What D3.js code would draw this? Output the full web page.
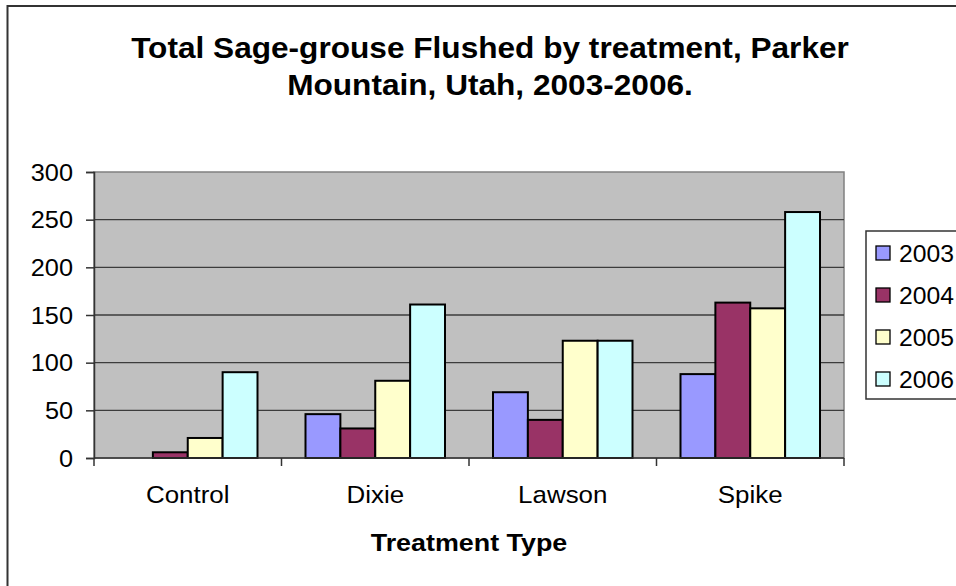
<!DOCTYPE html>
<html>
<head>
<meta charset="utf-8">
<script src="https://cdn.jsdelivr.net/npm/d3@7"></script>
<style>
    body { margin: 0; background: white; }
    svg { display: block; font-family: "Liberation Sans", Arial, sans-serif; }
</style>
</head>
<body>
<div id="chart"></div>
<script>
// data
const categories = ["Control", "Dixie", "Lawson", "Spike"];
const years = ["2003", "2004", "2005", "2006"];
const flushed2003 = [0, 46, 69, 88];
const flushed2004 = [6, 31, 40, 163];
const flushed2005 = [21, 81, 123, 157];
const flushed2006 = [90, 161, 123, 258];
const yTicks = [0, 50, 100, 150, 200, 250, 300];
const titleLines = ["Total Sage-grouse Flushed by treatment, Parker", "Mountain, Utah, 2003-2006."];
const xTitle = "Treatment Type";

const seriesValues = [flushed2003, flushed2004, flushed2005, flushed2006];
const colors = ["#9999FF", "#993366", "#FFFFCC", "#CCFFFF"];

const width = 956, height = 586;
const plot = {left: 94, right: 844, top: 172, bottom: 458};

// the original chart text is a bit wider than the font, so stretch it sideways
function place(x, y, sx) {
    return `translate(${x},${y}) scale(${sx},1)`;
}

const svg = d3.select("#chart")
    .append("svg")
    .attr("width", width)
    .attr("height", height);

// outer chart border (runs off the right and bottom edges)
svg.append("rect")
    .attr("x", 7.5)
    .attr("y", 6)
    .attr("width", 1000)
    .attr("height", 700)
    .attr("fill", "white")
    .attr("stroke", "#333")
    .attr("stroke-width", 2);

// title
svg.selectAll("text.title")
    .data(titleLines)
    .enter()
    .append("text")
    .attr("class", "title")
    .attr("transform", (d, i) => place(490, 58 + i * 37, 1.09))
    .attr("text-anchor", "middle")
    .attr("font-size", "29px")
    .attr("font-weight", "bold")
    .text(d => d);

const x0 = d3.scaleBand()
    .domain(categories)
    .range([plot.left, plot.right]);

const x1 = d3.scaleBand()
    .domain(years)
    .range([24, x0.bandwidth() - 24]);

const y = d3.scaleLinear()
    .domain([0, 300])
    .range([plot.bottom, plot.top]);

// plot background
svg.append("rect")
    .attr("x", plot.left)
    .attr("y", plot.top)
    .attr("width", plot.right - plot.left)
    .attr("height", plot.bottom - plot.top)
    .attr("fill", "#C0C0C0")
    .attr("stroke", "#808080")
    .attr("stroke-width", 1.5);

// gridlines
svg.selectAll("line.grid")
    .data(yTicks.filter(t => t > 0 && t < 300))
    .enter()
    .append("line")
    .attr("class", "grid")
    .attr("x1", plot.left)
    .attr("x2", plot.right)
    .attr("y1", d => y(d))
    .attr("y2", d => y(d))
    .attr("stroke", "#3c3c3c")
    .attr("stroke-width", 1.3);

// bars
const bars = [];
categories.forEach((c, i) => {
    years.forEach((yr, j) => {
        bars.push({category: c, year: yr, value: seriesValues[j][i], color: colors[j]});
    });
});

svg.append("g")
    .selectAll("rect")
    .data(bars.filter(d => d.value > 0))
    .enter()
    .append("rect")
    .attr("x", d => x0(d.category) + x1(d.year))
    .attr("y", d => y(d.value))
    .attr("width", x1.bandwidth())
    .attr("height", d => y(0) - y(d.value))
    .attr("fill", d => d.color)
    .attr("stroke", "black")
    .attr("stroke-width", 2);

// y axis
const yAxis = svg.append("g")
    .attr("transform", `translate(${plot.left},0)`)
    .call(d3.axisLeft(y).tickValues(yTicks).tickSize(8).tickPadding(12));
yAxis.select(".domain").attr("stroke", "#333").attr("stroke-width", 1.5);
yAxis.selectAll(".tick line").attr("stroke", "#333").attr("stroke-width", 1.5);
yAxis.selectAll(".tick text")
    .attr("x", null)
    .attr("dy", null)
    .attr("transform", place(-21, 8, 1.1))
    .attr("font-size", "23px")
    .attr("font-family", "Liberation Sans, Arial, sans-serif")
    .attr("fill", "black");

// x axis: ticks sit on the category boundaries
const xAxis = svg.append("g")
    .attr("transform", `translate(0,${plot.bottom})`);
xAxis.append("line")
    .attr("x1", plot.left)
    .attr("x2", plot.right)
    .attr("stroke", "#333")
    .attr("stroke-width", 1.5);
xAxis.selectAll("line.tick")
    .data(categories.map(c => x0(c)).concat([plot.right]))
    .enter()
    .append("line")
    .attr("class", "tick")
    .attr("x1", d => d)
    .attr("x2", d => d)
    .attr("y1", 0)
    .attr("y2", 8)
    .attr("stroke", "#333")
    .attr("stroke-width", 1.5);
xAxis.selectAll("text")
    .data(categories)
    .enter()
    .append("text")
    .attr("transform", d => place(x0(d) + x0.bandwidth() / 2, 45, 1.08))
    .attr("text-anchor", "middle")
    .attr("font-size", "24px")
    .text(d => d);

svg.append("text")
    .attr("transform", place((plot.left + plot.right) / 2, 551, 1.12))
    .attr("text-anchor", "middle")
    .attr("font-size", "24px")
    .attr("font-weight", "bold")
    .text(xTitle);

// legend
const legend = svg.append("g")
    .attr("transform", "translate(866,231)");
legend.append("rect")
    .attr("width", 120)
    .attr("height", 168)
    .attr("fill", "white")
    .attr("stroke", "#333")
    .attr("stroke-width", 1.5);
const item = legend.selectAll("g.item")
    .data(years)
    .enter()
    .append("g")
    .attr("class", "item")
    .attr("transform", (d, i) => `translate(10,${22 + i * 42})`);
item.append("rect")
    .attr("y", -7)
    .attr("width", 14)
    .attr("height", 14)
    .attr("fill", (d, i) => colors[i])
    .attr("stroke", "black")
    .attr("stroke-width", 1.3);
item.append("text")
    .attr("transform", place(23, 8.5, 1.03))
    .attr("font-size", "24px")
    .text(d => d);
</script>
</body>
</html>
